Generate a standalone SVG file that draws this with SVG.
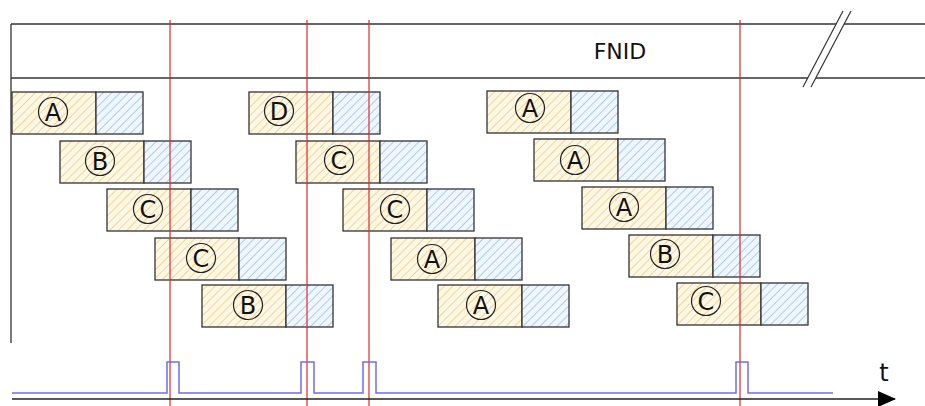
<svg xmlns="http://www.w3.org/2000/svg" width="925" height="406" viewBox="0 0 925 406">
<defs>
<pattern id="ho" patternUnits="userSpaceOnUse" width="6" height="6" patternTransform="rotate(45)">
<rect width="6" height="6" fill="#fdf7e6"/>
<line x1="0" y1="0" x2="0" y2="6" stroke="#f2c774" stroke-width="1.4"/>
</pattern>
<pattern id="hb" patternUnits="userSpaceOnUse" width="6" height="6" patternTransform="rotate(45)">
<rect width="6" height="6" fill="#f0f6fd"/>
<line x1="0" y1="0" x2="0" y2="6" stroke="#8dbce9" stroke-width="1.4"/>
</pattern>
<marker id="arr" markerWidth="18" markerHeight="16" refX="17" refY="8" orient="auto" markerUnits="userSpaceOnUse">
<path d="M0,0 L18,8 L0,16 Z" fill="#000"/>
</marker>
</defs>
<style>
.o{fill:url(#ho);stroke:#333;stroke-width:1.3}
.b{fill:url(#hb);stroke:#333;stroke-width:1.3}
.c{fill:none;stroke:#222;stroke-width:1.2}
.l{font-family:"DejaVu Sans",sans-serif;font-size:24px;fill:#111;text-anchor:middle}
.frame{fill:none;stroke:#333;stroke-width:1.3}
.red{stroke:#e0282a;stroke-width:1.2}
</style>
<rect width="925" height="406" fill="#fff"/>
<g id="fnid">
<line class="frame" x1="11" y1="24" x2="925" y2="24"/>
<line class="frame" x1="11" y1="78" x2="925" y2="78"/>
<line class="frame" x1="11" y1="24" x2="11" y2="343"/>
<polygon points="843,11 851,11 811,87 803,87" fill="#fff"/>
<line x1="843" y1="11" x2="803" y2="87" stroke="#333" stroke-width="1.2"/>
<line x1="851" y1="11" x2="811" y2="87" stroke="#333" stroke-width="1.2"/>
<text x="620" y="59" font-family="DejaVu Sans,sans-serif" font-size="22" fill="#111" text-anchor="middle">FNID</text>
</g>
<g id="c1r1"><rect class="o" x="12" y="92" width="84" height="42"/><rect class="b" x="96" y="92" width="47" height="42"/><circle class="c" cx="53" cy="112" r="14.5"/><text class="l" x="53" y="120.5">A</text></g>
<g id="c1r2"><rect class="o" x="60" y="141" width="84" height="42"/><rect class="b" x="144" y="141" width="47" height="42"/><circle class="c" cx="100" cy="161" r="14.5"/><text class="l" x="100" y="169.5">B</text></g>
<g id="c1r3"><rect class="o" x="107" y="189" width="84" height="42"/><rect class="b" x="191" y="189" width="47" height="42"/><circle class="c" cx="148" cy="209" r="14.5"/><text class="l" x="148" y="217.5">C</text></g>
<g id="c1r4"><rect class="o" x="155" y="238" width="84" height="42"/><rect class="b" x="239" y="238" width="47" height="42"/><circle class="c" cx="201" cy="258" r="14.5"/><text class="l" x="201" y="266.5">C</text></g>
<g id="c1r5"><rect class="o" x="202" y="285" width="84" height="42"/><rect class="b" x="286" y="285" width="47" height="42"/><circle class="c" cx="248" cy="305" r="14.5"/><text class="l" x="248" y="313.5">B</text></g>
<g id="c2r1"><rect class="o" x="249" y="92" width="84" height="42"/><rect class="b" x="333" y="92" width="47" height="42"/><circle class="c" cx="279" cy="111" r="14.5"/><text class="l" x="279" y="119.5">D</text></g>
<g id="c2r2"><rect class="o" x="296" y="141" width="84" height="42"/><rect class="b" x="380" y="141" width="47" height="42"/><circle class="c" cx="339" cy="160" r="14.5"/><text class="l" x="339" y="168.5">C</text></g>
<g id="c2r3"><rect class="o" x="343" y="189" width="84" height="42"/><rect class="b" x="427" y="189" width="47" height="42"/><circle class="c" cx="395" cy="209" r="14.5"/><text class="l" x="395" y="217.5">C</text></g>
<g id="c2r4"><rect class="o" x="391" y="238" width="84" height="42"/><rect class="b" x="475" y="238" width="47" height="42"/><circle class="c" cx="432" cy="259" r="14.5"/><text class="l" x="432" y="267.5">A</text></g>
<g id="c2r5"><rect class="o" x="438" y="285" width="84" height="42"/><rect class="b" x="522" y="285" width="47" height="42"/><circle class="c" cx="481" cy="305" r="14.5"/><text class="l" x="481" y="313.5">A</text></g>
<g id="c3r1"><rect class="o" x="487" y="91" width="84" height="42"/><rect class="b" x="571" y="91" width="47" height="42"/><circle class="c" cx="530" cy="108" r="14.5"/><text class="l" x="530" y="116.5">A</text></g>
<g id="c3r2"><rect class="o" x="534" y="139" width="84" height="42"/><rect class="b" x="618" y="139" width="47" height="42"/><circle class="c" cx="575" cy="160" r="14.5"/><text class="l" x="575" y="168.5">A</text></g>
<g id="c3r3"><rect class="o" x="582" y="187" width="84" height="42"/><rect class="b" x="666" y="187" width="47" height="42"/><circle class="c" cx="624" cy="207" r="14.5"/><text class="l" x="624" y="215.5">A</text></g>
<g id="c3r4"><rect class="o" x="629" y="235" width="84" height="42"/><rect class="b" x="713" y="235" width="47" height="42"/><circle class="c" cx="665" cy="254" r="14.5"/><text class="l" x="665" y="262.5">B</text></g>
<g id="c3r5"><rect class="o" x="677" y="283" width="84" height="42"/><rect class="b" x="761" y="283" width="47" height="42"/><circle class="c" cx="706" cy="301" r="14.5"/><text class="l" x="706" y="309.5">C</text></g>
<g id="connectors">
<line class="red" x1="170" y1="20" x2="170" y2="406"/>
<line class="red" x1="307" y1="20" x2="307" y2="406"/>
<line class="red" x1="369" y1="20" x2="369" y2="406"/>
<line class="red" x1="740" y1="20" x2="740" y2="406"/>
<polyline points="12,393 167,393 167,362 179,362 179,393 301,393 301,362 314,362 314,393 363,393 363,362 376,362 376,393 736,393 736,362 748,362 748,393 833,393" fill="none" stroke="#6e6cf0" stroke-width="1.5"/>
<line x1="12" y1="399" x2="895" y2="399" stroke="#222" stroke-width="1.5" marker-end="url(#arr)"/>
<text x="884" y="381" font-family="DejaVu Sans,sans-serif" font-size="24" fill="#111" text-anchor="middle">t</text>
</g>
</svg>
